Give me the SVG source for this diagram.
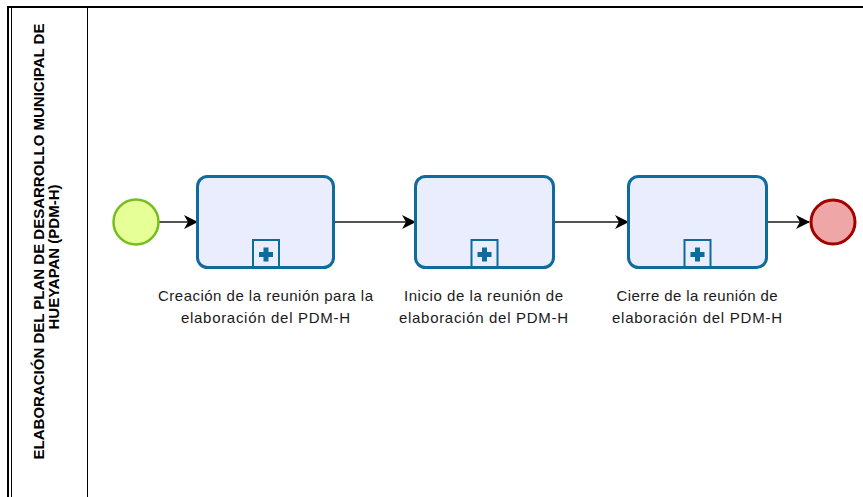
<svg xmlns="http://www.w3.org/2000/svg" width="863" height="497" viewBox="0 0 863 497">
<style>
.task{fill:#e9edfd;stroke:#0f6b9c;stroke-width:3}
.mk{fill:#e9edfd;stroke:#0f6b9c;stroke-width:2}
.plus{fill:#0f6b9c}
.flow{stroke:#1a1a1a;stroke-width:1.5;fill:none;marker-end:url(#arr)}
.lbl{font-family:"Liberation Sans",Arial,sans-serif;font-size:15px;fill:#1a1a1a;text-anchor:middle}
.pool{font-family:"Liberation Sans",Arial,sans-serif;font-size:15px;font-weight:bold;fill:#000;text-anchor:middle}
</style>
<defs>
<marker id="arr" markerWidth="14" markerHeight="14" refX="13" refY="7" orient="auto" markerUnits="userSpaceOnUse">
<path d="M0,0 L14,7 L0,14 L4,7 z" fill="#000"/>
</marker>
</defs>
<rect width="863" height="497" fill="#fff"/>
<g id="pool">
<line x1="7" y1="7" x2="863" y2="7" stroke="#000" stroke-width="2"/>
<line x1="8" y1="6" x2="8" y2="497" stroke="#000" stroke-width="2"/>
<line x1="11.5" y1="7" x2="11.5" y2="497" stroke="#000" stroke-width="1"/>
<line x1="87.5" y1="7" x2="87.5" y2="497" stroke="#000" stroke-width="1"/>
<text class="pool" transform="translate(44,241.5) rotate(-90)">ELABORACIÓN DEL PLAN DE DESARROLLO MUNICIPAL DE</text>
<text class="pool" transform="translate(59,257) rotate(-90)">HUEYAPAN (PDM-H)</text>
</g>
<g id="connectors">
<line class="flow" x1="159" y1="222" x2="197" y2="222"/>
<line class="flow" x1="334" y1="222" x2="415" y2="222"/>
<line class="flow" x1="554" y1="222" x2="628" y2="222"/>
<line class="flow" x1="767" y1="222" x2="809" y2="222"/>
</g>
<g id="start">
<circle cx="136" cy="222" r="22.5" fill="#e6ff97" stroke="#77bd1e" stroke-width="2.5"/>
</g>
<g id="task1">
<rect class="task" x="197.5" y="176.5" width="136" height="91" rx="10"/>
<rect class="mk" x="253" y="240" width="26" height="27"/>
<rect class="plus" x="259" y="252" width="14" height="5"/>
<rect class="plus" x="263.5" y="247.5" width="5" height="14"/>
<text class="lbl" x="265.5" y="301" textLength="215" lengthAdjust="spacing">Creación de la reunión para la</text>
<text class="lbl" x="265.5" y="323" textLength="169" lengthAdjust="spacing">elaboración del PDM-H</text>
</g>
<g id="task2">
<rect class="task" x="415.5" y="176.5" width="138" height="91" rx="10"/>
<rect class="mk" x="471.5" y="240" width="26" height="27"/>
<rect class="plus" x="477.5" y="252" width="14" height="5"/>
<rect class="plus" x="482" y="247.5" width="5" height="14"/>
<text class="lbl" x="483.5" y="301" textLength="159" lengthAdjust="spacing">Inicio de la reunión de</text>
<text class="lbl" x="483.5" y="323" textLength="169" lengthAdjust="spacing">elaboración del PDM-H</text>
</g>
<g id="task3">
<rect class="task" x="628.5" y="176.5" width="138" height="91" rx="10"/>
<rect class="mk" x="684.5" y="240" width="26" height="27"/>
<rect class="plus" x="690.5" y="252" width="14" height="5"/>
<rect class="plus" x="695" y="247.5" width="5" height="14"/>
<text class="lbl" x="697" y="301" textLength="161" lengthAdjust="spacing">Cierre de la reunión de</text>
<text class="lbl" x="697" y="323" textLength="170" lengthAdjust="spacing">elaboración del PDM-H</text>
</g>
<g id="end">
<circle cx="833" cy="222" r="22" fill="#eea6a6" stroke="#a30000" stroke-width="3"/>
</g>
</svg>
